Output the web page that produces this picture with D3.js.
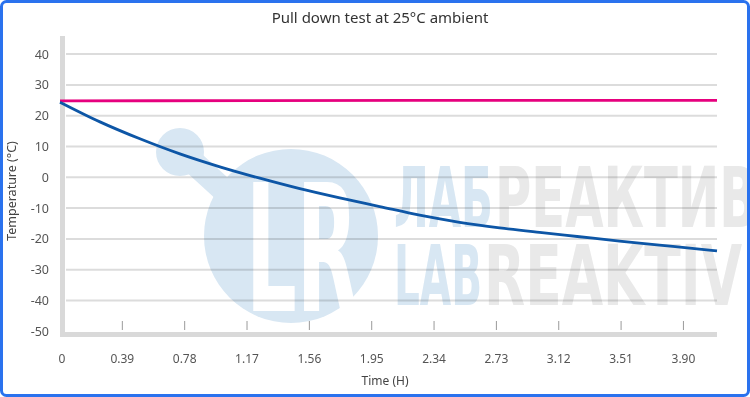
<!DOCTYPE html>
<html>
<head>
<meta charset="utf-8">
<script src="https://cdn.jsdelivr.net/npm/d3@7"></script>
<style>
  html, body { margin: 0; padding: 0; background: #fff; }
  svg { display: block; font-family: "Noto Sans", "Open Sans", sans-serif; }
</style>
</head>
<body>
<div id="chart"></div>
<script>
// Data
const timeTicks = [0.39, 0.78, 1.17, 1.56, 1.95, 2.34, 2.73, 3.12, 3.51, 3.90];
const tempTicks = [40, 30, 20, 10, 0, -10, -20, -30, -40, -50];

const productTime = [0, 0.25, 0.5, 0.75, 1.0, 1.25, 1.5, 1.75, 2.0, 2.25, 2.5, 2.75, 3.0, 3.25, 3.5, 3.75, 4.0, 4.11];
const productTemp = [24.4, 18.0, 12.5, 7.6, 3.4, -0.3, -3.7, -6.7, -9.5, -12.3, -14.6, -16.4, -17.9, -19.3, -20.7, -22.0, -23.3, -23.9];

const ambientTime = [0, 1.2, 2.4, 3.6, 4.11];
const ambientTemp = [24.8, 24.9, 25.0, 25.0, 25.0];

const W = 750, H = 397;
const svg = d3.select('#chart').append('svg')
  .attr('width', W).attr('height', H);

// X and Y scales
const x = d3.scaleLinear().domain([0, 4.11]).range([60, 717]);
const y = d3.scaleLinear().domain([-50, 40]).range([331.3, 54.1]);

// gridlines
svg.append('g')
  .selectAll('line')
  .data(tempTicks.filter(d => d > -50))
  .enter().append('line')
  .attr('x1', 66).attr('x2', x.range()[1])
  .attr('y1', d => y(d)).attr('y2', d => y(d))
  .attr('stroke', '#dcdcdc').attr('stroke-width', 2);

// watermark (multiplied over grid)
const wm = svg.append('g').style('mix-blend-mode', 'multiply');
const wmFont = '"DejaVu Sans Condensed", "DejaVu Sans", sans-serif';
wm.append('line')
  .attr('x1', 182).attr('y1', 152).attr('x2', 240).attr('y2', 205)
  .attr('stroke', '#d8e7f3').attr('stroke-width', 24);
wm.append('circle').attr('cx', 180).attr('cy', 152).attr('r', 24).attr('fill', '#d8e7f3');
wm.append('circle').attr('cx', 291).attr('cy', 236).attr('r', 87).attr('fill', '#d8e7f3');
wm.append('text')
  .attr('x', 246).attr('y', 311)
  .attr('textLength', 112).attr('lengthAdjust', 'spacingAndGlyphs')
  .style('font-family', wmFont)
  .style('font-weight', 'bold').style('font-size', '176px')
  .attr('fill', '#fff').text('LR');

const wmWords = [
  { t: 'ЛАБ', x0: 394, w: 99, y0: 227, c: '#d8e7f3' },
  { t: 'РЕАКТИВ', x0: 495, w: 262, y0: 227, c: '#e9e9e9' },
  { t: 'LAB', x0: 394, w: 88, y0: 305, c: '#d8e7f3' },
  { t: 'REAKTIV', x0: 484, w: 258, y0: 305, c: '#e9e9e9' }
];
wm.selectAll('text.wmw')
  .data(wmWords)
  .enter().append('text')
  .attr('class', 'wmw')
  .attr('x', d => d.x0).attr('y', d => d.y0)
  .attr('textLength', d => d.w).attr('lengthAdjust', 'spacingAndGlyphs')
  .style('font-family', wmFont)
  .style('font-weight', 'bold').style('font-size', '84px')
  .attr('fill', d => d.c)
  .text(d => d.t);

// axis bars
svg.append('rect').attr('x', 60).attr('y', 36).attr('width', 5).attr('height', 301).attr('fill', '#d9d9d9');
svg.append('rect').attr('x', 60).attr('y', 332).attr('width', x.range()[1] - 60).attr('height', 5).attr('fill', '#d9d9d9');

// x ticks
svg.append('g')
  .selectAll('line')
  .data(timeTicks)
  .enter().append('line')
  .attr('x1', d => x(d)).attr('x2', d => x(d))
  .attr('y1', 321).attr('y2', 330)
  .attr('stroke', '#9a9a9a').attr('stroke-width', 1);

svg.append('g')
  .selectAll('text')
  .data([0].concat(timeTicks))
  .enter().append('text')
  .attr('x', d => d === 0 ? 62 : x(d))
  .attr('y', 363)
  .attr('text-anchor', 'middle')
  .style('font-size', '12px').attr('fill', '#555')
  .text(d => d === 0 ? '0' : d3.format('.2f')(d));

// y labels
svg.append('g')
  .selectAll('text')
  .data(tempTicks)
  .enter().append('text')
  .attr('x', 49)
  .attr('y', d => y(d) + 4.5)
  .attr('text-anchor', 'end')
  .style('font-size', '12.5px').attr('fill', '#555')
  .text(d => d < 0 ? '-' + Math.abs(d) : d);

// titles
svg.append('text')
  .attr('x', 380).attr('y', 23)
  .attr('text-anchor', 'middle')
  .style('font-size', '15px').attr('fill', '#333')
  .text('Pull down test at 25°C ambient');

svg.append('text')
  .attr('x', 385).attr('y', 385)
  .attr('text-anchor', 'middle')
  .style('font-size', '12px').attr('fill', '#444')
  .text('Time (H)');

svg.append('text')
  .attr('transform', 'translate(16,191) rotate(-90)')
  .attr('text-anchor', 'middle')
  .style('font-size', '12.5px').attr('fill', '#444')
  .text('Temperature (°C)');

// lines
const line = d3.line().curve(d3.curveMonotoneX);

svg.append('path')
  .attr('d', line(ambientTime.map((t, i) => [x(t), y(ambientTemp[i])])))
  .attr('fill', 'none').attr('stroke', '#e6007e').attr('stroke-width', 2.8);

svg.append('path')
  .attr('d', line(productTime.map((t, i) => [x(t), y(productTemp[i])])))
  .attr('fill', 'none').attr('stroke', '#0d56a6').attr('stroke-width', 2.8);

// frame
svg.append('rect')
  .attr('x', 1.5).attr('y', 1.5).attr('width', W - 3).attr('height', H - 3)
  .attr('rx', 5)
  .attr('fill', 'none').attr('stroke', '#2a72ee').attr('stroke-width', 3);
</script>
</body>
</html>
